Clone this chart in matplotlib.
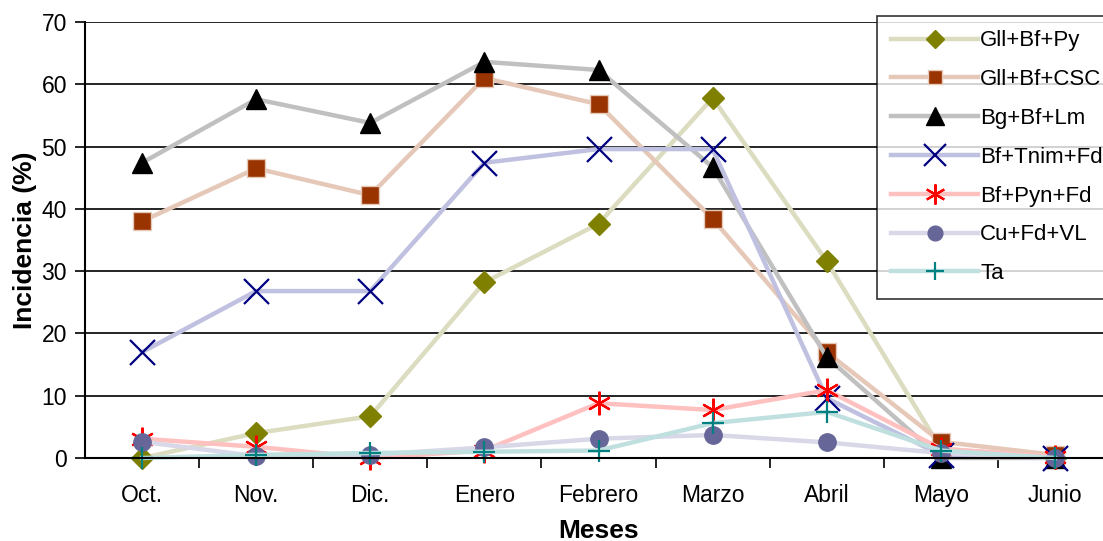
import matplotlib.pyplot as plt
import numpy as np

plt.rcParams['font.family'] = ['Liberation Sans', 'DejaVu Sans']

meses = ['Oct.', 'Nov.', 'Dic.', 'Enero', 'Febrero', 'Marzo', 'Abril', 'Mayo', 'Junio']

gll_bf_py = [0, 4.0, 6.7, 28.2, 37.6, 57.8, 31.6, 1.5, 0]
gll_bf_csc = [38.0, 46.5, 42.2, 61.0, 56.8, 38.4, 17.0, 2.6, 0.5]
bg_bf_lm = [47.4, 57.6, 53.8, 63.6, 62.3, 46.7, 16.2, 0, 0]
bf_tnim_fd = [17.0, 26.8, 26.8, 47.4, 49.6, 49.6, 9.6, 0.5, 0]
bf_pyn_fd = [3.1, 1.8, 0, 1.2, 8.8, 7.7, 10.9, 1.5, 0.2]
cu_fd_vl = [2.6, 0.3, 0.5, 1.7, 3.1, 3.7, 2.5, 0.8, 0]
ta = [0, 0.5, 0.8, 1.0, 1.2, 5.6, 7.4, 1.2, 0]

series = [
    ('Gll+Bf+Py', gll_bf_py, '#dcdcc0', 'D', '#808000', 11, 'none'),
    ('Gll+Bf+CSC', gll_bf_csc, '#e6c8b8', 's', '#993300', 12.5, '#e6c8b8'),
    ('Bg+Bf+Lm', bg_bf_lm, '#c0c0c0', '^', '#000000', 15, 'none'),
    ('Bf+Tnim+Fd', bf_tnim_fd, '#c0c0e0', 'x', '#000080', 18, None),
    ('Bf+Pyn+Fd', bf_pyn_fd, '#ffc0c0', (6, 2, 0), '#ff0000', 17, None),
    ('Cu+Fd+VL', cu_fd_vl, '#d8d8e8', 'o', '#666699', 12.5, 'none'),
    ('Ta', ta, '#c0e0e0', '+', '#008080', 16, None),
]

fig = plt.figure(figsize=(11.03, 5.41), dpi=100)
ax = fig.add_axes([85 / 1103, 83 / 541, 1027 / 1103, 436 / 541])

x = np.arange(len(meses))
for name, vals, lc, mk, mc, ms, mec in series:
    kw = dict(color=lc, lw=3.2, marker=mk, markersize=ms, markerfacecolor=mc,
              label=name, solid_joinstyle='miter')
    if mec is None:
        kw['markeredgecolor'] = mc
        kw['markeredgewidth'] = 1.6
    else:
        kw['markeredgecolor'] = mc if mec == 'none' else mec
        kw['markeredgewidth'] = 1.0
    ax.plot(x, vals, clip_on=False, **kw)

ax.set_xlim(-0.5, len(meses) - 0.5)
ax.set_ylim(0, 70)
ax.set_yticks(np.arange(0, 71, 10))
ax.yaxis.grid(True, color='black', lw=1.2)
ax.set_axisbelow(True)
ax.set_xticks(x)
ax.set_xticklabels(meses)
ax.set_xticks(np.arange(0.5, len(meses) - 0.5, 1), minor=True)
ax.tick_params(axis='x', which='major', length=0, labelsize=16.5, pad=19)
ax.tick_params(axis='x', which='minor', length=7, width=1.2, direction='out')
ax.tick_params(axis='y', length=7, width=1.2, labelsize=16.5, pad=6)
for s in ['top', 'right']:
    ax.spines[s].set_visible(False)
ax.spines['left'].set_linewidth(1.5)
ax.spines['bottom'].set_linewidth(1.5)

ax.set_ylabel('Incidencia (%)', fontsize=19, fontweight='bold', labelpad=3)
ax.set_xlabel('Meses', fontsize=19, fontweight='bold', labelpad=8)

leg = ax.legend(loc='upper left', bbox_to_anchor=(877 / 1103, 525 / 541),
                bbox_transform=fig.transFigure, fontsize=16, frameon=True,
                fancybox=False, edgecolor='black', handlelength=3.9,
                handletextpad=0.1, labelspacing=0.8, borderpad=0.65,
                borderaxespad=0)
leg.get_frame().set_linewidth(1.2)
for h in leg.legend_handles:
    h.set_markersize(h.get_markersize() * 0.85)

fig.savefig('out.png', dpi=100)
